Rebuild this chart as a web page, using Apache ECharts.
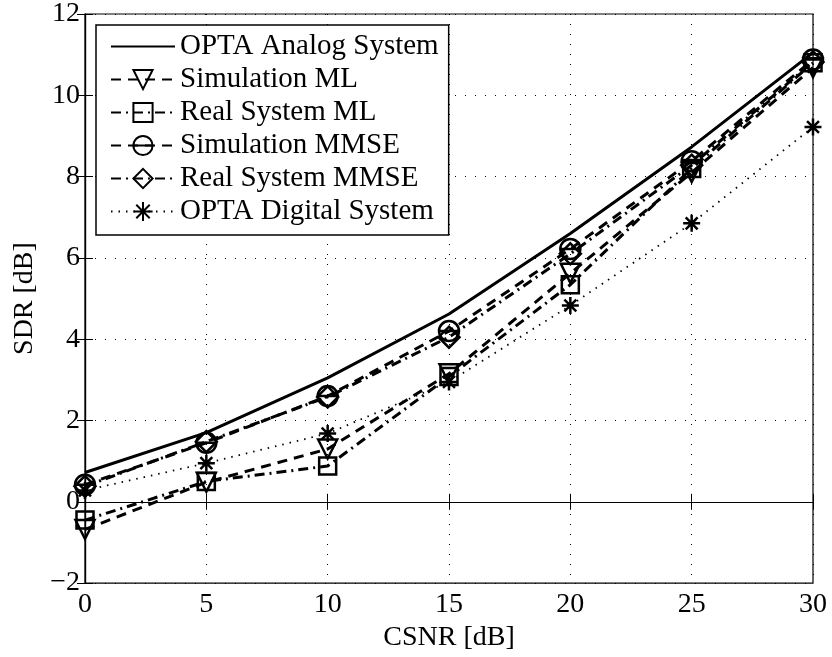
<!DOCTYPE html>
<html>
<head>
<meta charset="utf-8">
<script src="https://cdn.jsdelivr.net/npm/echarts@6/dist/echarts.min.js"></script>
<style>html,body{margin:0;padding:0;background:#fff;}#c{width:832px;height:657px;}</style>
</head>
<body>
<div id="c"></div>
<script>
const csnr = [0, 5, 10, 15, 20, 25, 30];
const optaAnalog  = [0.72, 1.70, 3.05, 4.62, 6.60, 8.73, 11.05];
const simML       = [-0.68, 0.48, 1.30, 3.15, 5.62, 8.10, 10.68];
const realML      = [-0.45, 0.50, 0.88, 3.08, 5.34, 8.20, 10.80];
const simMMSE     = [0.42, 1.45, 2.60, 4.20, 6.22, 8.38, 10.88];
const realMMSE    = [0.38, 1.48, 2.58, 4.05, 6.10, 8.28, 10.82];
const optaDigital = [0.28, 0.95, 1.68, 2.95, 4.83, 6.85, 9.22];
const seriesNames = ['OPTA Analog System', 'Simulation ML', 'Real System ML', 'Simulation MMSE', 'Real System MMSE', 'OPTA Digital System'];
const xTicks = [0, 5, 10, 15, 20, 25, 30];
const yTicks = [-2, 0, 2, 4, 6, 8, 10, 12];

const FONT = '"Liberation Serif", "Times New Roman", serif';
const pair = (xs, ys) => xs.map((x, i) => [x, ys[i]]);

const SYM = {
  tri: 'path://M-10,-8L10,-8L0,10Z',
  sq: 'path://M-10,-10L10,-10L10,10L-10,10Z',
  circ: 'path://M-10,0A10,10,0,1,1,10,0A10,10,0,1,1,-10,0ZM-10,0L10,0',
  dia: 'path://M0,-10L10,0L0,10L-10,0Z',
  ast: 'path://M0,-10L0,10M-10,0L10,0M-7,-7L7,7M-7,7L7,-7'
};

function mk(name, data, lineType, width, symbol, size) {
  return {
    name: name,
    type: 'line',
    data: pair(csnr, data),
    xAxisIndex: 0, yAxisIndex: 0,
    symbol: symbol || 'circle',
    symbolSize: size || 1,
    showSymbol: !!symbol,
    lineStyle: { color: '#000', width: width, type: lineType },
    itemStyle: symbol
      ? { color: 'rgba(255,255,255,0)', borderColor: '#000', borderWidth: 2.5 }
      : { color: 'rgba(255,255,255,0)', borderColor: 'rgba(255,255,255,0)', borderWidth: 0 },
    emphasis: { disabled: true },
    animation: false
  };
}

const chart = echarts.init(document.getElementById('c'), null, { renderer: 'canvas' });
const gridLine = { show: true, lineStyle: { color: '#000', width: 1, type: [1, 9] } };
chart.setOption({
  backgroundColor: '#fff',
  animation: false,
  textStyle: { fontFamily: FONT },
  grid: { left: 85, right: 19, top: 14, bottom: 69, show: true, borderColor: '#000', borderWidth: 1.2 },
  legend: {
    orient: 'vertical',
    left: 96, top: 25,
    backgroundColor: '#fff',
    borderColor: '#000', borderWidth: 1.5,
    padding: [7, 10, 9, 14],
    itemWidth: 64, itemHeight: 24, itemGap: 4,
    data: seriesNames,
    textStyle: { fontFamily: FONT, fontSize: 29, color: '#000', lineHeight: 28 }
  },
  xAxis: [{
    type: 'value', min: 0, max: 30, interval: 5,
    name: 'CSNR [dB]', nameLocation: 'middle', nameGap: 34,
    nameTextStyle: { fontFamily: FONT, fontSize: 28, color: '#000' },
    axisLine: { lineStyle: { color: '#000', width: 1.2 } },
    axisTick: { inside: true, length: 8, lineStyle: { color: '#000' } },
    axisLabel: { fontFamily: FONT, fontSize: 28, color: '#000', margin: 8,
      formatter: v => xTicks.includes(v) ? String(v) : '' },
    splitLine: gridLine
  }, {
    type: 'value', min: 0, max: 30, interval: 5, position: 'top',
    axisLine: { show: true, lineStyle: { color: '#000', width: 1.2 } },
    axisTick: { inside: true, length: 8, lineStyle: { color: '#000' } },
    axisLabel: { show: false }, splitLine: { show: false }
  }],
  yAxis: [{
    type: 'value', min: -2, max: 12, interval: 2,
    name: 'SDR [dB]', nameLocation: 'middle', nameGap: 46, nameRotate: 90,
    nameTextStyle: { fontFamily: FONT, fontSize: 28, color: '#000' },
    axisLine: { show: true, lineStyle: { color: '#000', width: 1.2 } },
    axisTick: { show: true, inside: true, length: 8, lineStyle: { color: '#000' } },
    axisLabel: { fontFamily: FONT, fontSize: 28, color: '#000', margin: 5,
      formatter: v => yTicks.includes(v) ? String(v).replace('-', '\u2212') : '' },
    splitLine: gridLine
  }, {
    type: 'value', min: -2, max: 12, interval: 2, position: 'right',
    axisLine: { show: true, lineStyle: { color: '#000', width: 1.2 } },
    axisTick: { show: true, inside: true, length: 8, lineStyle: { color: '#000' } },
    axisLabel: { show: false }, splitLine: { show: false }
  }],
  series: [
    mk(seriesNames[0], optaAnalog, 'solid', 3, null),
    mk(seriesNames[1], simML, [10, 7], 3, SYM.tri, 19),
    mk(seriesNames[2], realML, [10, 5, 2, 5], 3, SYM.sq, 17),
    mk(seriesNames[3], simMMSE, [10, 7], 3, SYM.circ, 20),
    mk(seriesNames[4], realMMSE, [10, 5, 2, 5], 3, SYM.dia, 21),
    mk(seriesNames[5], optaDigital, [1.5, 6], 1.8, SYM.ast, 17)
  ]
});
</script>
</body>
</html>
